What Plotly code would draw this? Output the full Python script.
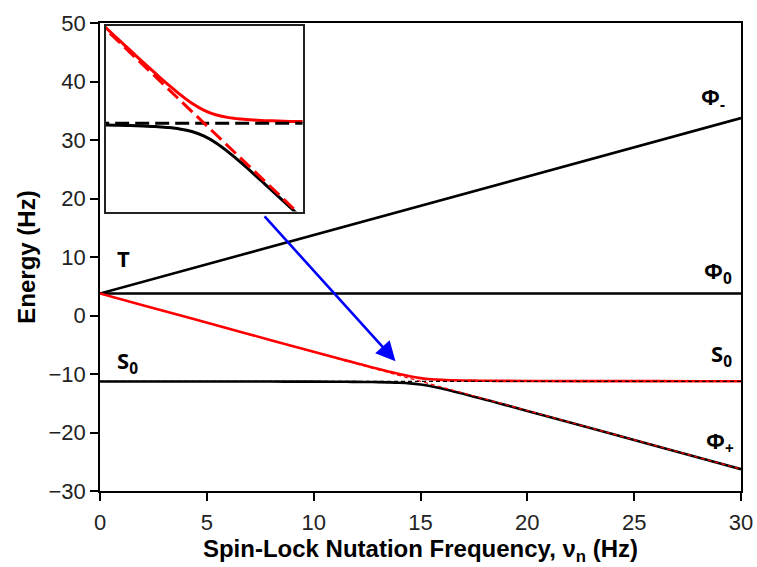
import plotly.graph_objects as go

# Values (Hz)
nu = [0, 2, 4, 6, 8, 10, 11, 11.5, 12, 12.5, 13, 13.5, 14, 14.5, 15, 15.5,
      16, 16.5, 17, 17.5, 18, 18.5, 19, 20, 22, 25, 28, 30]
upper = [3.77, 1.77, -0.22, -2.22, -4.21, -6.19, -7.18, -7.67, -8.15, -8.64,
         -9.11, -9.57, -10.01, -10.40, -10.70, -10.90, -11.01, -11.07, -11.11,
         -11.14, -11.15, -11.17, -11.18, -11.19, -11.21, -11.22, -11.23, -11.23]
lower = [-11.27, -11.27, -11.28, -11.28, -11.29, -11.31, -11.32, -11.33, -11.35,
         -11.37, -11.39, -11.43, -11.49, -11.60, -11.80, -12.10, -12.49, -12.93,
         -13.39, -13.87, -14.35, -14.83, -15.32, -16.31, -18.29, -21.28, -24.27,
         -26.27]
line_x = [0, 30]
phi_minus = [3.75, 33.75]
phi_zero = [3.75, 3.75]
phi_plus = [3.75, -26.25]
s_zero = [-11.25, -11.25]

labels = ["T", "S<sub>0</sub>", "Φ<sub>-</sub>", "Φ<sub>0</sub>", "S<sub>0</sub>", "Φ<sub>+</sub>"]
label_x = [1.1, 1.3, 28.7, 28.9, 29.1, 29.0]
label_y = [9.8, -7.9, 37.2, 7.4, -6.7, -21.6]

fig = go.Figure()
lw = 2.6
# main plot
fig.add_trace(go.Scatter(x=line_x, y=phi_minus, mode="lines", line=dict(color="black", width=lw)))
fig.add_trace(go.Scatter(x=line_x, y=phi_zero, mode="lines", line=dict(color="black", width=lw)))
fig.add_trace(go.Scatter(x=nu, y=lower, mode="lines", line=dict(color="black", width=lw, shape="spline")))
fig.add_trace(go.Scatter(x=nu, y=upper, mode="lines", line=dict(color="red", width=lw, shape="spline")))
fig.add_trace(go.Scatter(x=line_x, y=s_zero, mode="lines", line=dict(color="black", width=1.2, dash="4px,3px")))
fig.add_trace(go.Scatter(x=line_x, y=phi_plus, mode="lines", line=dict(color="red", width=1.2, dash="4px,3px")))

# inset
ilw = 3
fig.add_trace(go.Scatter(x=nu, y=upper, mode="lines", xaxis="x2", yaxis="y2",
                         line=dict(color="red", width=ilw, shape="spline")))
fig.add_trace(go.Scatter(x=nu, y=lower, mode="lines", xaxis="x2", yaxis="y2",
                         line=dict(color="black", width=ilw, shape="spline")))
fig.add_trace(go.Scatter(x=line_x, y=s_zero, mode="lines", xaxis="x2", yaxis="y2",
                         line=dict(color="black", width=ilw, dash="14px,6px")))
fig.add_trace(go.Scatter(x=line_x, y=phi_plus, mode="lines", xaxis="x2", yaxis="y2",
                         line=dict(color="red", width=ilw, dash="14px,6px")))

label_font = dict(family="Open Sans", size=22, color="black")
annotations = []
for t, x, y in zip(labels, label_x, label_y):
    annotations.append(dict(x=x, y=y, xref="x", yref="y", text="<b>" + t + "</b>",
                            showarrow=False, font=label_font))
annotations.append(dict(x=13.83, y=-7.8, ax=7.64, ay=17.2, xref="x", yref="y",
                        axref="x", ayref="y", text="", showarrow=True,
                        arrowhead=2, arrowsize=1.5, arrowwidth=2.6, arrowcolor="#0000ff"))

tick_font = dict(family="Liberation Sans, Arial", size=22, color="#222")
title_font = dict(family="Liberation Sans, Arial", size=24, color="black")
fig.update_layout(
    width=757, height=567,
    margin=dict(l=100, r=16, t=23, b=76),
    plot_bgcolor="white", paper_bgcolor="white",
    showlegend=False,
    annotations=annotations,
    xaxis=dict(range=[0, 30], tickvals=[0, 5, 10, 15, 20, 25, 30], ticks="outside",
               ticklen=8, tickwidth=1.5, tickcolor="black", showline=True, linecolor="black",
               linewidth=1.5, mirror=True, showgrid=False, zeroline=False, tickfont=tick_font,
               automargin=False, ticklabelstandoff=3,
               title=dict(text="<b>Spin-Lock Nutation Frequency, ν<sub>n</sub> (Hz)</b>",
                          font=title_font, standoff=4)),
    yaxis=dict(range=[-30, 50], tickvals=[-30, -20, -10, 0, 10, 20, 30, 40, 50], ticks="outside",
               ticklen=8, tickwidth=1.5, tickcolor="black", showline=True, linecolor="black",
               linewidth=1.5, mirror=True, showgrid=False, zeroline=False, tickfont=tick_font,
               automargin=False,
               title=dict(text="<b>Energy (Hz)</b>", font=title_font, standoff=6)),
    xaxis2=dict(domain=[0.009, 0.316], anchor="y2", range=[11, 19], showticklabels=False,
                ticks="", showline=True, linecolor="#222", linewidth=1.5, mirror=True,
                showgrid=False, zeroline=False),
    yaxis2=dict(domain=[0.597, 0.9936], anchor="x2", range=[-15.01, -7.11], showticklabels=False,
                ticks="", showline=True, linecolor="#222", linewidth=1.5, mirror=True,
                showgrid=False, zeroline=False),
)

fig.write_html("out.html")
